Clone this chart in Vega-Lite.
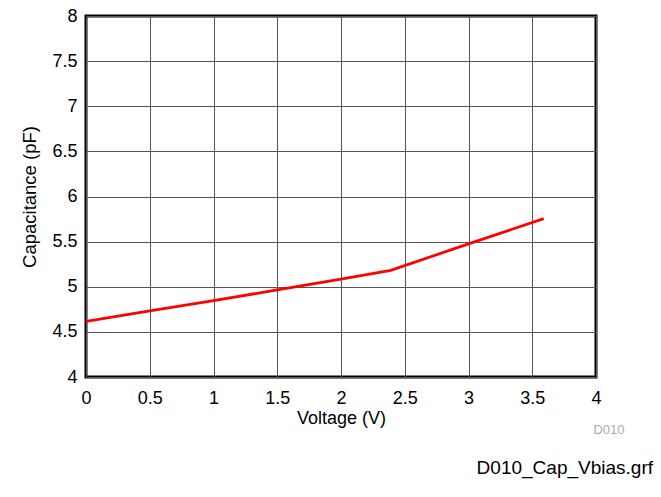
{
  "$schema": "https://vega.github.io/schema/vega-lite/v6.json",
  "width": 510,
  "height": 361,
  "autosize": "none",
  "padding": {"left": 86, "top": 16, "right": 65, "bottom": 120},
  "background": "white",
  "config": {
    "font": "Liberation Sans",
    "view": {"stroke": "#000", "strokeWidth": 3},
    "axis": {
      "domain": false,
      "ticks": false,
      "tickSize": 0,
      "grid": true,
      "gridColor": "#555",
      "gridWidth": 1,
      "labelFlush": false,
      "labelOverlap": false,
      "labelColor": "#000",
      "labelFontSize": 18,
      "labelFont": "Liberation Sans",
      "titleFont": "Liberation Sans",
      "titleColor": "#000",
      "titleFontWeight": "normal"
    }
  },
  "data": {
    "values": [
      {"v": 0.0, "c": 4.617},
      {"v": 0.5, "c": 4.732},
      {"v": 1.0, "c": 4.846},
      {"v": 1.5, "c": 4.965},
      {"v": 2.0, "c": 5.085},
      {"v": 2.39, "c": 5.182},
      {"v": 3.0, "c": 5.475},
      {"v": 3.59, "c": 5.755}
    ]
  },
  "title": {
    "text": "D010_Cap_Vbias.grf",
    "orient": "bottom",
    "anchor": "end",
    "frame": "group",
    "dx": 57,
    "offset": 23,
    "fontSize": 19,
    "fontWeight": "normal",
    "font": "Liberation Sans",
    "color": "#000"
  },
  "layer": [
    {
      "mark": {"type": "line", "color": "#ff0000", "strokeWidth": 2.75},
      "encoding": {
        "x": {
          "field": "v",
          "type": "quantitative",
          "scale": {"domain": [0, 4], "nice": false},
          "axis": {
            "values": [0, 0.5, 1, 1.5, 2, 2.5, 3, 3.5, 4],
            "format": "~g",
            "labelPadding": 12,
            "title": "Voltage (V)",
            "titleFontSize": 18,
            "titlePadding": 2
          }
        },
        "y": {
          "field": "c",
          "type": "quantitative",
          "scale": {"domain": [4, 8], "nice": false, "zero": false},
          "axis": {
            "values": [4, 4.5, 5, 5.5, 6, 6.5, 7, 7.5, 8],
            "format": "~g",
            "labelPadding": 9,
            "title": "Capacitance (pF)",
            "titleFontSize": 18.5,
            "titlePadding": 12
          }
        }
      }
    },
    {
      "mark": {"type": "line", "opacity": 0},
      "encoding": {
        "x": {"field": "v", "type": "quantitative"},
        "y": {
          "field": "c",
          "type": "quantitative",
          "axis": {
            "orient": "right",
            "grid": false,
            "labels": false,
            "ticks": false,
            "domain": false,
            "title": "D010",
            "titleAngle": 0,
            "titleAlign": "right",
            "titleBaseline": "alphabetic",
            "titleX": 28,
            "titleY": 417,
            "titleFontSize": 13,
            "titleColor": "#aaaaaa"
          }
        }
      }
    }
  ],
  "resolve": {"axis": {"y": "independent"}}
}
